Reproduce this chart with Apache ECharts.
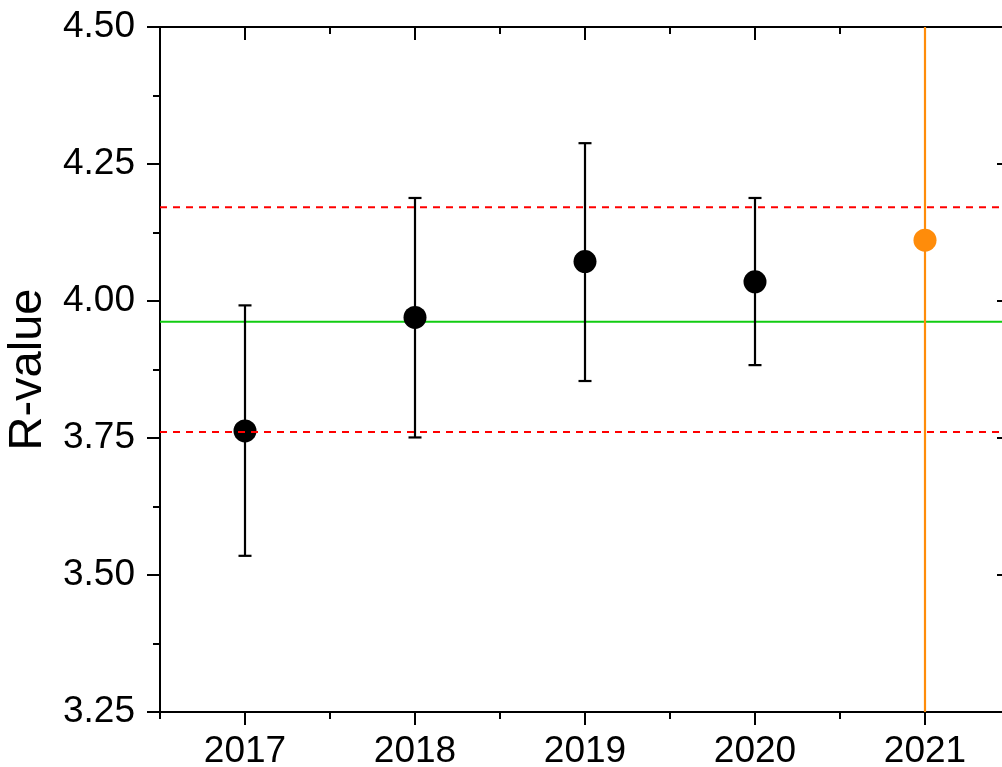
<!DOCTYPE html>
<html>
<head>
<meta charset="utf-8">
<script src="https://cdn.jsdelivr.net/npm/echarts@6/dist/echarts.min.js"></script>
<style>
html,body{margin:0;padding:0;background:#fff;}
#chart{width:1002px;height:767px;}
</style>
</head>
<body>
<div id="chart"></div>
<script>
// ---- data ----
const years = [2017, 2018, 2019, 2020];
const rValues = [3.763, 3.970, 4.072, 4.035];
const upperErr = [3.992, 4.188, 4.288, 4.188];
const lowerErr = [3.535, 3.751, 3.854, 3.883];

const highlightYear = [2021];
const highlightValue = [4.111];
const highlightUpper = [5.5];
const highlightLower = [2.5];

const meanLine = 3.962;
const upperLimit = 4.171;
const lowerLimit = 3.761;

const xTickYears = [2017, 2018, 2019, 2020, 2021];
const xMinorTicks = [2016.5, 2017.5, 2018.5, 2019.5, 2020.5, 2021.5];
const xRange = [2016.5, 2021.5];
const yRange = [3.25, 4.5];
const yInterval = 0.25;

// ---- chart ----
const FONT = 'Liberation Sans, Arial, sans-serif';
const AX = '#000';

function errRenderer(color) {
  return function (params, api) {
    const x = api.value(0), lo = api.value(1), hi = api.value(2);
    const pLo = api.coord([x, lo]);
    const pHi = api.coord([x, hi]);
    const hw = 6.5;
    const style = { stroke: color, lineWidth: 2.2, fill: null };
    return {
      type: 'group',
      children: [
        { type: 'line', shape: { x1: pHi[0], y1: pHi[1], x2: pLo[0], y2: pLo[1] }, style: style },
        { type: 'line', shape: { x1: pHi[0] - hw, y1: pHi[1], x2: pHi[0] + hw, y2: pHi[1] }, style: style },
        { type: 'line', shape: { x1: pLo[0] - hw, y1: pLo[1], x2: pLo[0] + hw, y2: pLo[1] }, style: style }
      ]
    };
  };
}

const baseX = {
  type: 'value', min: xRange[0], max: xRange[1],
  splitLine: { show: false },
  axisLine: { onZero: false, lineStyle: { color: AX, width: 2 } }
};

const option = {
  animation: false,
  backgroundColor: '#fff',
  grid: { left: 160, top: 27, width: 850, height: 685, containLabel: false, outerBoundsMode: 'none' },
  xAxis: [
    Object.assign({}, baseX, {
      position: 'bottom',
      axisTick: { show: true, customValues: xTickYears, length: 13, lineStyle: { color: AX, width: 2 } },
      axisLabel: { customValues: xTickYears, margin: 21, color: '#000', fontSize: 37, fontFamily: FONT,
        formatter: v => String(Math.round(v)) }
    }),
    Object.assign({}, baseX, {
      position: 'bottom',
      axisLine: { show: false, onZero: false },
      axisTick: { show: true, customValues: xMinorTicks, length: 7, lineStyle: { color: AX, width: 2 } },
      axisLabel: { show: false }
    }),
    Object.assign({}, baseX, {
      position: 'top',
      axisTick: { show: true, inside: true, customValues: xTickYears, length: 13, lineStyle: { color: AX, width: 2 } },
      axisLabel: { show: false }
    }),
    Object.assign({}, baseX, {
      position: 'top',
      axisLine: { show: false, onZero: false },
      axisTick: { show: true, inside: true, customValues: xMinorTicks, length: 7, lineStyle: { color: AX, width: 2 } },
      axisLabel: { show: false }
    })
  ],
  yAxis: [
    {
      type: 'value', position: 'left', min: yRange[0], max: yRange[1], interval: yInterval,
      name: 'R-value', nameLocation: 'middle', nameGap: 108, nameRotate: 90,
      nameTextStyle: { fontSize: 47, fontFamily: FONT, color: '#000' },
      splitLine: { show: false },
      axisLine: { show: true, onZero: false, lineStyle: { color: AX, width: 2 } },
      axisTick: { show: true, length: 13, lineStyle: { color: AX, width: 2 } },
      minorTick: { show: true, splitNumber: 2, length: 7, lineStyle: { color: AX, width: 2 } },
      axisLabel: { margin: 25, color: '#000', fontSize: 37, fontFamily: FONT, formatter: v => v.toFixed(2) }
    },
    {
      type: 'value', position: 'right', min: yRange[0], max: yRange[1], interval: yInterval,
      splitLine: { show: false },
      axisLine: { show: true, onZero: false, lineStyle: { color: AX, width: 2 } },
      axisTick: { show: true, inside: true, length: 13, lineStyle: { color: AX, width: 2 } },
      minorTick: { show: true, splitNumber: 2, length: 7, lineStyle: { color: AX, width: 2 } },
      axisLabel: { show: false }
    }
  ],
  series: [
    {
      type: 'line', name: 'mean', z: 1, symbol: 'none', silent: true,
      data: [[xRange[0], meanLine], [xRange[1], meanLine]],
      lineStyle: { color: '#11CC11', width: 2 }
    },
    {
      type: 'custom', name: 'err', z: 2, clip: true,
      renderItem: errRenderer('#000'),
      data: years.map((y, i) => [y, lowerErr[i], upperErr[i]])
    },
    {
      type: 'scatter', name: 'R', z: 3, symbol: 'circle', symbolSize: 23,
      itemStyle: { color: '#000', opacity: 1 },
      data: years.map((y, i) => [y, rValues[i]])
    },
    {
      type: 'line', name: 'upper', z: 4, symbol: 'none', silent: true,
      data: [[xRange[0], upperLimit], [xRange[1], upperLimit]],
      lineStyle: { color: '#FF0000', width: 2, type: [7, 6] }
    },
    {
      type: 'line', name: 'lower', z: 4, symbol: 'none', silent: true,
      data: [[xRange[0], lowerLimit], [xRange[1], lowerLimit]],
      lineStyle: { color: '#FF0000', width: 2, type: [7, 6] }
    },
    {
      type: 'custom', name: 'err2021', z: 5, clip: true,
      renderItem: errRenderer('#FF8C0A'),
      data: highlightYear.map((y, i) => [y, highlightLower[i], highlightUpper[i]])
    },
    {
      type: 'scatter', name: 'R2021', z: 6, symbol: 'circle', symbolSize: 23,
      itemStyle: { color: '#FF8C0A', opacity: 1 },
      data: highlightYear.map((y, i) => [y, highlightValue[i]])
    }
  ]
};

const chart = echarts.init(document.getElementById('chart'), null, { renderer: 'canvas' });
chart.setOption(option);
</script>
</body>
</html>
